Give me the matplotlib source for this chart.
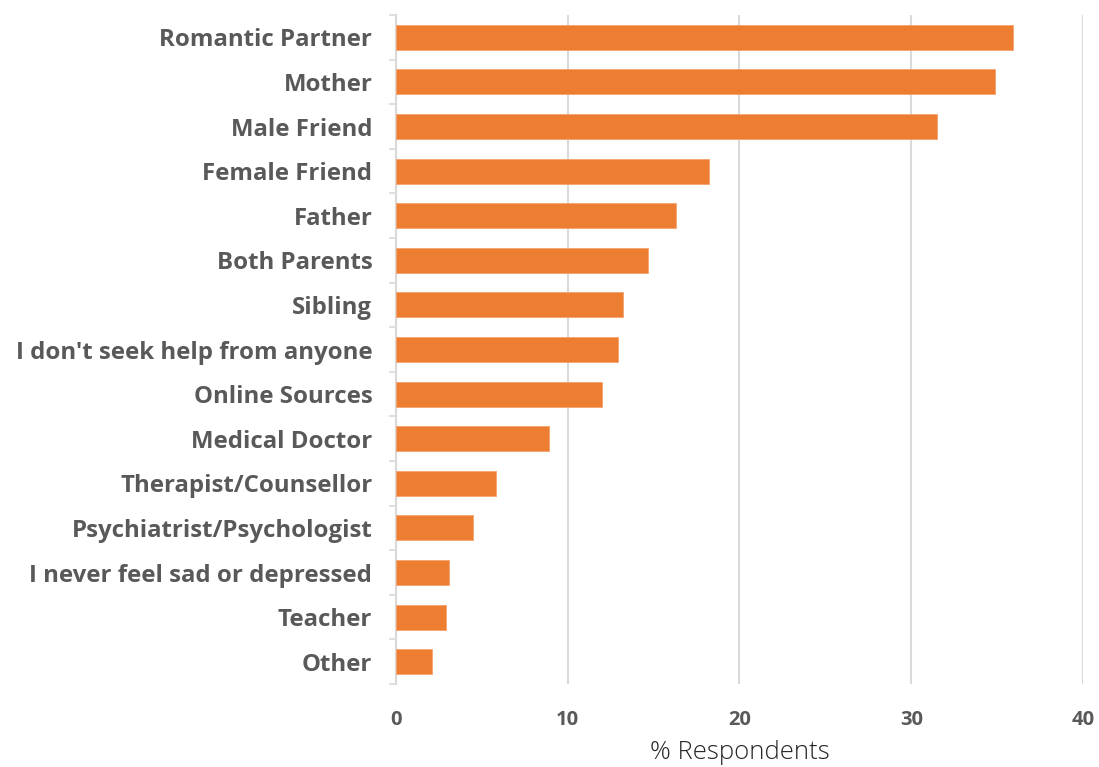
import numpy as np
import matplotlib.pyplot as plt
from matplotlib.ticker import FixedLocator

# Daten
categories = ['Romantic Partner', 'Mother', 'Male Friend', 'Female Friend', 'Father',
              'Both Parents', 'Sibling', "I don't seek help from anyone", 'Online Sources',
              'Medical Doctor', 'Therapist/Counsellor', 'Psychiatrist/Psychologist',
              'I never feel sad or depressed', 'Teacher', 'Other']
values = [35.9, 34.9, 31.5, 18.2, 16.3, 14.7, 13.2, 12.9, 12.0, 8.9, 5.8, 4.5, 3.1, 2.9, 2.1]
xticks = [0, 10, 20, 30, 40]

# Ploteinstellungen
txtcol = '#595959'
gridcol = '#d9d9d9'
barcol = '#ED7D31'
plt.rcParams['font.family'] = ['Open Sans', 'DejaVu Sans']

fig = plt.figure(figsize=(10.99, 7.67), dpi=100)
ax = fig.add_axes([0.3603, 0.1082, 0.6251, 0.8722])

y = np.arange(len(categories))
ax.barh(y, values, height=0.56, color=barcol, edgecolor='#f4a36e', linewidth=0.6, zorder=3)

ax.set_ylim(len(categories) - 0.5, -0.5)
ax.set_xlim(0, 40)
ax.set_xticks(xticks)
ax.set_xticklabels([str(t) for t in xticks], fontsize=14.5, fontweight='bold', color=txtcol)
ax.set_yticks(y)
ax.set_yticklabels(categories, fontsize=17.3, fontweight='bold', color=txtcol)
ax.yaxis.set_minor_locator(FixedLocator(np.arange(-0.5, len(categories), 1.0)))

ax.tick_params(axis='y', which='major', length=0, pad=17)
ax.tick_params(axis='y', which='minor', length=5, width=1.2, color=gridcol)
ax.tick_params(axis='x', length=0, pad=19)

ax.grid(axis='x', color=gridcol, linewidth=1.5, zorder=0)
for s in ['top', 'right', 'bottom']:
    ax.spines[s].set_visible(False)
ax.spines['left'].set_color(gridcol)
ax.spines['left'].set_linewidth(1.5)

ax.set_xlabel('% Respondents', fontsize=18.5, fontweight='light', color='#262626', labelpad=7)

plt.savefig('out.png', dpi=100)
